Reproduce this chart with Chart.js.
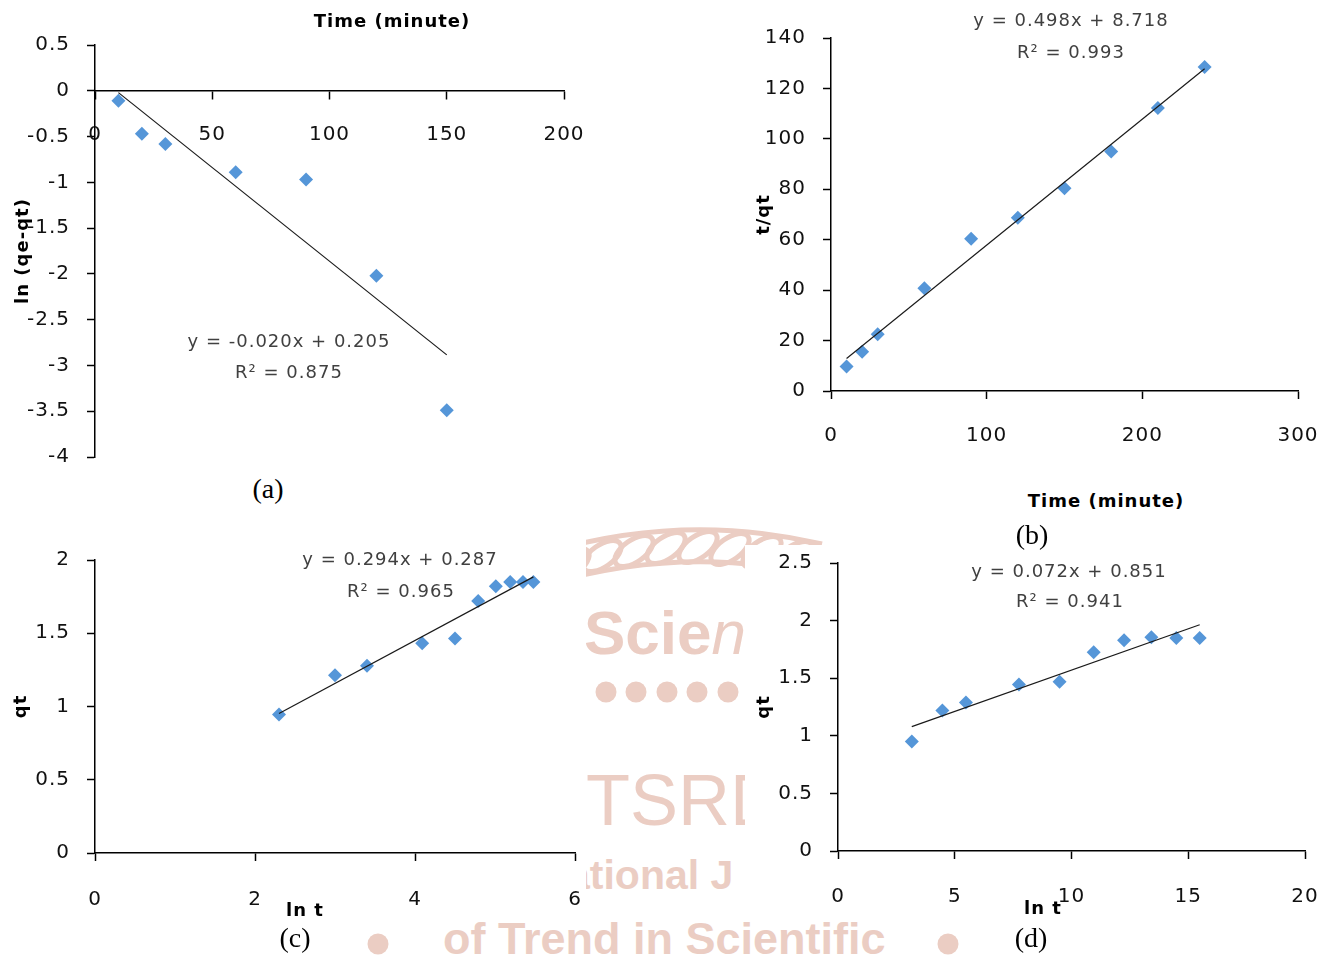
<!DOCTYPE html>
<html><head><meta charset="utf-8">
<script src="https://cdn.jsdelivr.net/npm/chart.js@4.4.1/dist/chart.umd.min.js"></script>
<style>
html,body{margin:0;padding:0;background:#fff;}
#root{position:relative;width:1327px;height:955px;overflow:hidden;background:#fff;}
.wm{position:absolute;color:#ebcdc3;font-family:'Liberation Sans',Arial,sans-serif;line-height:1;white-space:nowrap;}
.dot{position:absolute;width:21px;height:21px;border-radius:50%;background:#ebcdc3;transform:translate(-50%,-50%);}
.bg{position:absolute;background:#fff;}
canvas{position:absolute;}
.lbl{position:absolute;transform:translate(-50%,-50%);white-space:nowrap;line-height:1;font-family:'DejaVu Sans',sans-serif;}
.eq{font-size:18px;color:#404040;letter-spacing:1px;}
.ttl{font-size:18px;font-weight:bold;color:#000;letter-spacing:1px;}
.cap{font-family:'Liberation Serif','Times New Roman',serif;font-size:28px;color:#000;}
</style></head>
<body><div id="root">
<!-- faint watermark (background decoration) -->
<svg style="position:absolute;left:540px;top:512px" width="290" height="80">
  <g fill="none" stroke="#ebcdc3" stroke-width="5">
    <path d="M8 40 Q145 0 282 32"/>
    <path d="M8 72 Q145 32 282 64"/>
    <ellipse cx="30" cy="52" rx="22" ry="11" transform="rotate(-35 30 52)"/>
    <ellipse cx="62" cy="44" rx="22" ry="11" transform="rotate(-35 62 44)"/>
    <ellipse cx="94" cy="39" rx="22" ry="11" transform="rotate(-35 94 39)"/>
    <ellipse cx="126" cy="36" rx="22" ry="11" transform="rotate(-35 126 36)"/>
    <ellipse cx="158" cy="35" rx="22" ry="11" transform="rotate(-35 158 35)"/>
    <ellipse cx="190" cy="37" rx="22" ry="11" transform="rotate(-35 190 37)"/>
    <ellipse cx="222" cy="40" rx="22" ry="11" transform="rotate(-35 222 40)"/>
    <ellipse cx="254" cy="45" rx="22" ry="11" transform="rotate(-35 254 45)"/>
  </g>
</svg>
<div class="wm" style="left:584px;top:602px;font-size:62px;font-weight:bold">Scie<i style="font-weight:normal">ntific</i></div>
<div class="dot" style="left:575px;top:692px"></div>
<div class="dot" style="left:606px;top:692px"></div>
<div class="dot" style="left:636px;top:692px"></div>
<div class="dot" style="left:667px;top:692px"></div>
<div class="dot" style="left:697px;top:692px"></div>
<div class="dot" style="left:728px;top:692px"></div>
<div class="dot" style="left:758px;top:692px"></div>
<div class="wm" style="left:530px;top:764px;font-size:72px">IJTSRD</div>
<div class="wm" style="left:567px;top:855px;font-size:41px;font-weight:bold">ational J</div>
<div class="wm" style="left:443px;top:916px;font-size:45px;font-weight:bold">of Trend in Scientific</div>
<div class="dot" style="left:378px;top:944px"></div>
<div class="dot" style="left:948px;top:944px"></div>

<div class="bg" style="left:0;top:538px;width:586px;height:382px"></div>
<div class="bg" style="left:745px;top:545px;width:582px;height:377px"></div>

<canvas id="ca" width="600" height="470" style="left:0;top:0"></canvas>
<canvas id="cb" width="587" height="470" style="left:740px;top:0"></canvas>
<canvas id="cc" width="600" height="400" style="left:0;top:530px"></canvas>
<canvas id="cd" width="587" height="400" style="left:740px;top:530px"></canvas>

<div class="lbl ttl" style="left:392px;top:21px">Time (minute)</div>
<div class="lbl eq" style="left:289px;top:341px">y = -0.020x + 0.205</div>
<div class="lbl eq" style="left:289px;top:372px">R² = 0.875</div>
<div class="lbl cap" style="left:268px;top:489px">(a)</div>

<div class="lbl eq" style="left:1071px;top:20px">y = 0.498x + 8.718</div>
<div class="lbl eq" style="left:1071px;top:52px">R² = 0.993</div>
<div class="lbl ttl" style="left:1106px;top:501px">Time (minute)</div>
<div class="lbl cap" style="left:1032px;top:535px">(b)</div>

<div class="lbl eq" style="left:400px;top:559px">y = 0.294x + 0.287</div>
<div class="lbl eq" style="left:401px;top:591px">R² = 0.965</div>
<div class="lbl ttl" style="left:305px;top:910px">ln t</div>
<div class="lbl cap" style="left:295px;top:938px">(c)</div>

<div class="lbl eq" style="left:1069px;top:571px">y = 0.072x + 0.851</div>
<div class="lbl eq" style="left:1070px;top:601px">R² = 0.941</div>
<div class="lbl ttl" style="left:1043px;top:908px">ln t</div>
<div class="lbl cap" style="left:1031px;top:938px">(d)</div>
</div>
<script>
// ---- data ----
const aTime = [10, 20, 30, 60, 90, 120, 150];
const aLnQeQt = [-0.11, -0.47, -0.58, -0.89, -0.97, -2.02, -3.49];
const aXTicks = [0, 50, 100, 150, 200];
const aYTicks = [-4, -3.5, -3, -2.5, -2, -1.5, -1, -0.5, 0, 0.5];

const bTime = [10, 20, 30, 60, 90, 120, 150, 180, 210, 240];
const bTOverQt = [9.7, 15.6, 22.5, 40.8, 60.4, 68.7, 80.4, 95.0, 112.2, 128.5];
const bXTicks = [0, 100, 200, 300];
const bYTicks = [0, 20, 40, 60, 80, 100, 120, 140];

const cLnT = [2.30, 3.00, 3.40, 4.09, 4.50, 4.79, 5.01, 5.19, 5.35, 5.48];
const cQt = [0.945, 1.214, 1.278, 1.431, 1.465, 1.72, 1.82, 1.85, 1.85, 1.85];
const cXTicks = [0, 2, 4, 6];
const cYTicks = [0, 0.5, 1, 1.5, 2];

const dX = [3.16, 4.47, 5.48, 7.75, 9.49, 10.95, 12.25, 13.42, 14.49, 15.49];
const dQt = [0.95, 1.22, 1.29, 1.445, 1.47, 1.725, 1.83, 1.855, 1.85, 1.85];
const dXTicks = [0, 5, 10, 15, 20];
const dYTicks = [0, 0.5, 1, 1.5, 2, 2.5];

const yTitles = ['ln (qe-qt)', 't/qt', 'qt', 'qt'];

// least-squares trendline (as the spreadsheet does)
function trend(xs, ys) {
  const n = xs.length;
  let sx = 0, sy = 0, sxx = 0, sxy = 0;
  for (let i = 0; i < n; i++) { sx += xs[i]; sy += ys[i]; sxx += xs[i] * xs[i]; sxy += xs[i] * ys[i]; }
  const m = (n * sxy - sx * sy) / (n * sxx - sx * sx);
  const b = (sy - m * sx) / n;
  const x0 = Math.min(...xs), x1 = Math.max(...xs);
  return [{x: x0, y: m * x0 + b}, {x: x1, y: m * x1 + b}];
}

const spacing = {id: 'spacing', beforeDraw(chart) { chart.ctx.letterSpacing = '1px'; }};
const tickFont = {family: 'DejaVu Sans', size: 20};
const noPad = s => { s.paddingLeft = 0; s.paddingRight = 0; s.paddingTop = 0; s.paddingBottom = 0; };

function panel(id, xs, ys, xTicks, yTicks, yTitle, o) {
  const pts = xs.map((x, i) => ({x: x, y: ys[i]}));
  const xScale = {
    type: 'linear',
    min: xTicks[0], max: xTicks[xTicks.length - 1],
    afterBuildTicks: s => { s.ticks = xTicks.map(v => ({value: v})); },
    grid: {drawOnChartArea: false, drawTicks: true, tickLength: 8, tickWidth: 1.5, tickColor: '#000'},
    border: {display: true, color: '#000', width: 1.5},
    ticks: {font: tickFont, color: '#111', padding: o.xPad, maxRotation: 0, autoSkip: false, callback: v => String(v)}
  };
  if (o.xAtZero) { xScale.position = {y: 0}; xScale.afterFit = s => { noPad(s); }; }
  else { xScale.position = 'bottom'; xScale.afterFit = s => { s.height = o.xH; noPad(s); }; }
  new Chart(document.getElementById(id), {
    type: 'scatter',
    data: {datasets: [
      {data: trend(xs, ys), showLine: true, borderColor: '#1a1a1a', borderWidth: 1.2, pointRadius: 0, order: 0},
      {data: pts, pointStyle: 'rectRot', pointRadius: 7, backgroundColor: '#5596d8', borderColor: '#5596d8', borderWidth: 0, order: 1}
    ]},
    options: {
      responsive: false, animation: false, devicePixelRatio: 1,
      layout: {padding: {left: 0, top: o.top, right: o.right, bottom: o.bottom}},
      plugins: {legend: {display: false}, tooltip: {enabled: false}},
      scales: {
        x: xScale,
        y: {
          type: 'linear', position: 'left',
          min: yTicks[0], max: yTicks[yTicks.length - 1],
          afterBuildTicks: s => { s.ticks = yTicks.map(v => ({value: v})); },
          afterFit: s => { s.width = o.yW; noPad(s); },
          grid: {drawOnChartArea: false, drawTicks: true, tickLength: 8, tickWidth: 1.5, tickColor: '#000'},
          border: {display: true, color: '#000', width: 1.5},
          ticks: {font: tickFont, color: '#111', padding: 17, autoSkip: false, callback: v => String(v)},
          title: {display: true, text: yTitle, color: '#000', font: {family: 'DejaVu Sans', size: 18, weight: 'bold'}, padding: {top: o.tPad, bottom: 0}}
        }
      }
    },
    plugins: [spacing]
  });
}

panel('ca', aTime, aLnQeQt, aXTicks, aYTicks, yTitles[0], {xAtZero: true, xPad: 24, top: 45, right: 36, bottom: 13, yW: 95, tPad: 13});
panel('cb', bTime, bTOverQt, bXTicks, bYTicks, yTitles[1], {xPad: 25, xH: 79, top: 38, right: 29, bottom: 0, yW: 91, tPad: 14});
panel('cc', cLnT, cQt, cXTicks, cYTicks, yTitles[2], {xPad: 27, xH: 77, top: 30, right: 25, bottom: 0, yW: 95, tPad: 11});
panel('cd', dX, dQt, dXTicks, dYTicks, yTitles[3], {xPad: 26, xH: 79, top: 33, right: 22, bottom: 0, yW: 98, tPad: 14});
</script>
</body></html>
